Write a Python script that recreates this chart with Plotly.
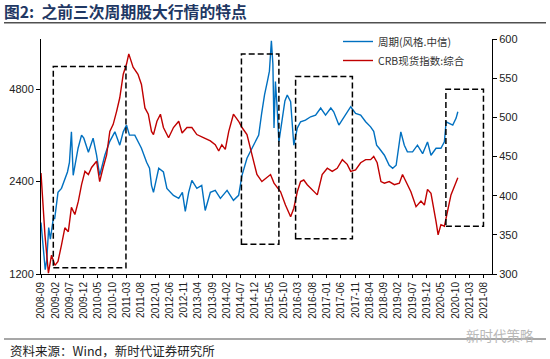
import plotly.graph_objects as go
import math

# ---- data ----
cyc_dates = ["2008-09-01","2008-09-16","2008-10-01","2008-10-16","2008-11-01","2008-11-22","2008-12-10",
    "2009-01-10","2009-01-25","2009-02-16","2009-03-01","2009-04-07","2009-05-13","2009-06-10","2009-07-01",
    "2009-07-22","2009-08-10","2009-09-10","2009-10-01","2009-11-07","2009-12-01","2010-01-19","2010-02-16",
    "2010-03-10","2010-04-16","2010-05-19","2010-06-16","2010-07-13","2010-09-01","2010-10-28","2010-12-19",
    "2011-01-25","2011-03-01","2011-04-01","2011-05-28","2011-07-01","2011-08-07","2011-10-01","2011-11-01",
    "2011-11-22","2011-12-13","2012-02-07","2012-03-28","2012-05-04","2012-07-13","2012-09-07","2012-10-16",
    "2012-11-16","2012-12-22","2013-01-25","2013-03-19","2013-05-10","2013-06-16","2013-08-10","2013-10-01",
    "2013-11-25","2014-02-04","2014-04-13","2014-06-07","2014-07-13","2014-09-04","2014-11-13","2015-01-07",
    "2015-02-07","2015-03-10","2015-04-10","2015-05-01","2015-05-22","2015-06-07","2015-06-19","2015-07-04",
    "2015-07-22","2015-08-10","2015-09-16","2015-10-13","2015-11-07","2015-12-13","2016-01-16","2016-02-22",
    "2016-03-28","2016-05-19","2016-07-13","2016-09-04","2016-10-28","2016-12-19","2017-02-13","2017-03-16",
    "2017-05-10","2017-07-04","2017-09-13","2017-11-04","2017-12-28","2018-02-19","2018-04-13","2018-05-16",
    "2018-06-16","2018-07-13","2018-09-07","2018-10-28","2018-12-04","2019-01-10","2019-03-01","2019-04-07",
    "2019-05-10","2019-07-04","2019-08-25","2019-10-19","2019-12-10","2020-01-16","2020-03-10","2020-05-01",
    "2020-06-07","2020-06-25","2020-07-28","2020-09-04","2020-10-10","2020-10-28"]
cyc_values = [1766,1560,1378,1240,1330,1700,1560,
    1820,1820,2053,2214,2282,2460,2580,2775,
    3488,2517,2860,3084,3402,3326,2993,3155,
    3326,2926,2517,2714,2926,3234,3488,3155,
    3488,3669,3402,3402,3234,3084,2775,2653,
    2334,2214,2653,2580,2282,2165,2117,2214,
    1920,2214,2424,2282,2334,1933,2214,2248,
    2117,2248,2086,2165,2517,2860,3155,3402,
    4000,4600,5100,5500,6900,5800,3587,5084,
    4200,3234,3867,4400,4598,4372,3155,3587,
    3761,3809,3905,3955,4170,3955,4170,4055,
    3669,3905,4211,4007,3955,3761,3620,3500,
    3155,3084,2926,2714,2653,2714,3488,3155,
    3000,3000,3155,2960,3234,2926,3084,3084,
    3234,3761,3724,3669,3867,4055]

crb_dates = ["2008-09-01","2008-10-13","2008-11-19","2008-12-22","2009-01-28","2009-03-01","2009-04-07",
    "2009-05-13","2009-06-19","2009-07-22","2009-08-28","2009-10-04","2009-11-07","2009-12-13","2010-01-19",
    "2010-02-22","2010-04-16","2010-05-19","2010-06-25","2010-08-01","2010-09-04","2010-10-10","2010-11-16",
    "2010-12-19","2011-01-25","2011-03-01","2011-03-25","2011-05-10","2011-07-01","2011-08-07","2011-09-13",
    "2011-10-19","2011-11-22","2011-12-13","2012-01-19","2012-02-25","2012-03-28","2012-05-22","2012-07-13",
    "2012-09-07","2012-10-13","2012-12-04","2013-01-25","2013-03-19","2013-05-28","2013-08-10","2013-10-01",
    "2013-11-07","2013-12-10","2014-01-16","2014-02-22","2014-04-13","2014-06-07","2014-07-13","2014-09-04",
    "2014-10-28","2014-12-19","2015-02-10","2015-04-07","2015-05-13","2015-06-19","2015-07-22","2015-08-28",
    "2015-10-19","2015-12-13","2016-01-16","2016-02-22","2016-03-28","2016-05-01","2016-06-07","2016-07-28",
    "2016-09-22","2016-11-13","2017-01-07","2017-02-28","2017-04-22","2017-06-16","2017-08-07","2017-09-13",
    "2017-11-04","2017-12-28","2018-02-19","2018-04-13","2018-05-16","2018-06-22","2018-08-01","2018-09-07",
    "2018-10-28","2018-12-22","2019-02-13","2019-03-19","2019-04-25","2019-06-16","2019-08-10","2019-10-01",
    "2019-11-07","2019-12-10","2020-01-16","2020-02-22","2020-03-10","2020-04-01","2020-05-01","2020-06-07",
    "2020-07-10","2020-08-16","2020-09-22","2020-10-28"]
crb_values = [429,350,301,324,311,316,337,
    359,354,385,376,393,414,431,427,
    436,444,418,436,452,482,491,508,
    525,555,568,581,564,555,542,512,
    504,482,478,495,504,487,474,487,
    495,480,487,487,478,474,470,465,
    457,465,459,482,504,495,487,478,
    453,427,418,423,427,416,410,405,
    388,373,384,405,418,420,414,408,
    401,427,435,431,435,446,440,431,
    433,442,446,446,450,442,418,416,
    418,414,416,427,418,405,386,393,
    388,408,403,380,367,350,363,361,
    380,401,412,423]

x_tick_labels = ["2008-09","2009-02","2009-07","2009-12","2010-05","2010-10","2011-03","2011-08",
    "2012-01","2012-06","2012-11","2013-04","2013-09","2014-02","2014-07","2014-12","2015-05",
    "2015-10","2016-03","2016-08","2017-01","2017-06","2017-11","2018-04","2018-09","2019-02",
    "2019-07","2019-12","2020-05","2020-10","2021-03","2021-08"]
left_ticks = [1200, 2400, 4800]
right_ticks = [300, 350, 400, 450, 500, 550, 600]

# highlighted periods: (start, end, low, high) on the right axis
box_start = ["2009-01-10", "2014-07-07", "2016-02-04", "2020-06-23"]
box_end = ["2011-02-23", "2015-08-10", "2017-10-01", "2021-07-28"]
box_low = [308, 338, 345, 361]
box_high = [565, 581, 552, 536]

series_names = ["周期(风格.中信)", "CRB现货指数:综合"]

# ---- figure ----
W, H = 550, 359
ML, MR, MT, MB = 41, 58, 39, 85
PW, PH = W - ML - MR, H - MT - MB

def px2x(px):
    return (px - ML) / PW

def py2y(py):
    return (H - MB - py) / PH

BLUE = "#0070C0"
RED = "#C00000"
FONT = "Liberation Sans, Arial, sans-serif"
CJK = "Noto Sans CJK SC, sans-serif"

fig = go.Figure()
fig.add_trace(go.Scatter(x=cyc_dates, y=cyc_values, name=series_names[0], mode="lines",
                         line=dict(color=BLUE, width=1.4), yaxis="y"))
fig.add_trace(go.Scatter(x=crb_dates, y=crb_values, name=series_names[1], mode="lines",
                         line=dict(color=RED, width=1.4), yaxis="y2"))

for x0, x1, y0, y1 in zip(box_start, box_end, box_low, box_high):
    fig.add_shape(type="rect", xref="x", yref="y2", x0=x0, x1=x1, y0=y0, y1=y1,
                  line=dict(color="black", width=1.5, dash="6px,3px"), fillcolor="rgba(0,0,0,0)")

# title rule and bottom rule
fig.add_shape(type="line", xref="paper", yref="paper", x0=px2x(4), x1=px2x(546),
              y0=py2y(22.7), y1=py2y(22.7), line=dict(color="#505050", width=1.5))
fig.add_shape(type="line", xref="paper", yref="paper", x0=px2x(4), x1=px2x(546),
              y0=py2y(339), y1=py2y(339), line=dict(color="#505050", width=1.2))

fig.add_annotation(xref="paper", yref="paper", x=px2x(8), y=py2y(350), xanchor="left", yanchor="middle",
                   text="资料来源：Wind，新时代证券研究所", showarrow=False,
                   font=dict(family=CJK, size=12.5, color="#222222"))
fig.add_annotation(xref="paper", yref="paper", x=px2x(500), y=py2y(335), xanchor="center", yanchor="middle",
                   text="新时代策略", showarrow=False,
                   font=dict(family=CJK, size=13.5, color="#b8b8b8"))

fig.update_layout(
    width=W, height=H,
    margin=dict(l=ML, r=MR, t=MT, b=MB, autoexpand=False),
    paper_bgcolor="white", plot_bgcolor="white",
    title=dict(text="<b>图2:  之前三次周期股大行情的特点</b>", x=4 / W, xanchor="left",
               y=1 - 12 / H, yanchor="middle", xref="container", yref="container",
               font=dict(family=CJK, size=15.8, color="#1F3864"), automargin=False),
    showlegend=True,
    legend=dict(x=px2x(338), y=py2y(27), xanchor="left", yanchor="top",
                bgcolor="rgba(0,0,0,0)", font=dict(family=CJK, size=10.5, color="#333333"),
                tracegroupgap=0, itemwidth=30),
    xaxis=dict(type="date", range=["2008-09-01", "2021-10-27"], automargin=False,
               tickmode="array", tickvals=[t + "-01" for t in x_tick_labels], ticktext=x_tick_labels,
               tickangle=-90, ticks="outside", ticklen=3, tickcolor="black", tickwidth=1,
               showline=True, linecolor="black", linewidth=1, showgrid=False, zeroline=False,
               tickfont=dict(family=FONT, size=10, color="#222222")),
    yaxis=dict(type="log", range=[math.log10(1200), math.log10(7000)], automargin=False,
               tickmode="array", tickvals=left_ticks, ticktext=[str(v) for v in left_ticks],
               ticks="outside", ticklen=4, tickcolor="black", showline=True, linecolor="black",
               linewidth=1, showgrid=False, zeroline=False,
               tickfont=dict(family=FONT, size=11, color="#222222")),
    yaxis2=dict(overlaying="y", side="right", range=[300, 600], tickmode="array", automargin=False,
                tickvals=right_ticks, ticks="outside", ticklen=4, tickcolor="black",
                showline=True, linecolor="black", linewidth=1, showgrid=False, zeroline=False,
                tickfont=dict(family=FONT, size=11, color="#222222")),
)

fig.write_html("out.html", config={"displayModeBar": False},
               post_script="document.body.style.margin='0';document.body.style.padding='0';")
